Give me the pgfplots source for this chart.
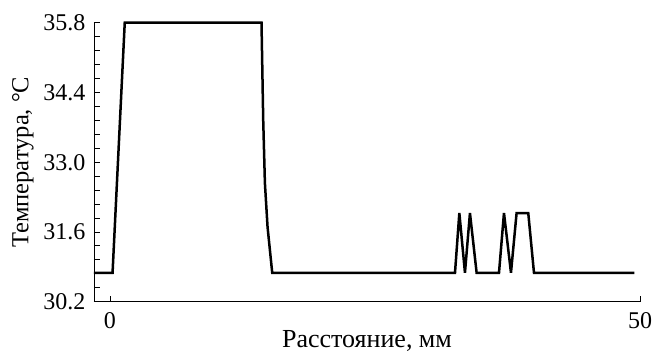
\documentclass[border=0pt]{standalone}
\usepackage{pgfplots}
\pgfplotsset{compat=1.18}
\usepackage{fontspec}
\setmainfont{Liberation Serif}
\begin{document}
\begin{tikzpicture}
\begin{axis}[
  name=ax,
  scale only axis,
  width=546pt, height=279pt,
  xmin=-1.5, xmax=50,
  ymin=30.2, ymax=35.8,
  axis lines=left,
  axis line style={-, line width=0.9pt},
  xtick={0,50},
  ytick={30.2,31.6,33.0,34.4,35.8},
  minor y tick num=4,
  /pgf/number format/assume math mode=true,
  tick style={black, line width=0.8pt},
  major tick length=6pt, minor tick length=6pt,
  tick align=inside,
  ticklabel style={font=\fontsize{24}{28}\selectfont},
  yticklabel style={xshift=-5pt, /pgf/number format/.cd, fixed, fixed zerofill, precision=1},
  xticklabel style={yshift=-7pt},
  xlabel style={font=\fontsize{26}{30}\selectfont, yshift=5pt},
  ylabel style={font=\fontsize{24.5}{28}\selectfont, yshift=3pt},
  xlabel={Расстояние, мм},
  ylabel={Температура, °С},
  clip=false,
]
\addplot[black, line width=2.5pt, line join=miter, miter limit=3] coordinates {
(-1.5,30.78) (0.25,30.78) (1.4,35.8) (14.3,35.8) (14.46,33.85) (14.62,32.58) (14.87,31.70) (15.31,30.78)
(32.55,30.78) (32.96,31.98) (33.49,30.78) (33.96,31.98) (34.59,30.78) (36.7,30.78) (37.17,31.98) (37.83,30.78)
(38.36,31.98) (39.46,31.98) (40.0,30.78) (49.46,30.78)
};
\end{axis}
\pgfresetboundingbox
\path (ax.south west) ++(-94pt,-51.3pt) rectangle ([shift={(13pt,22.7pt)}]ax.north east);
\end{tikzpicture}
\end{document}
